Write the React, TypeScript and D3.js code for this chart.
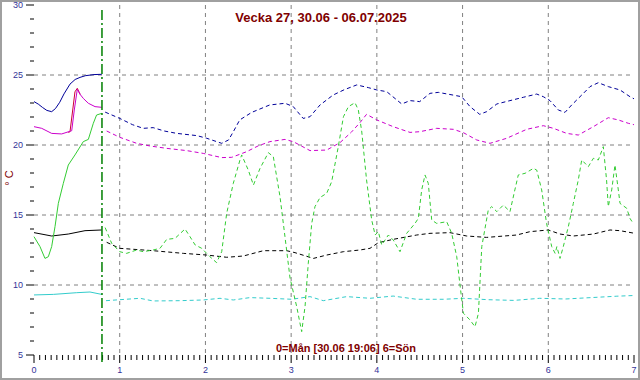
import React from "react";
import * as d3 from "d3";

type P = [number, number];

const titleText = "Vecka 27, 30.06 - 06.07.2025";
const footerText = "0=Mån [30.06 19:06] 6=Sön";
const yLabel = "° C";
const xTicks = [0, 1, 2, 3, 4, 5, 6, 7];
const yTicks = [5, 10, 15, 20, 25, 30];
const nowX = 0.793;

const blueSolid: P[] = [[0,23.1],[0.05,22.92],[0.1,22.68],[0.15,22.47],[0.206,22.38],[0.25,22.6],[0.3,23.05],[0.35,23.65],[0.42,24.35],[0.48,24.68],[0.537,24.83],[0.6,24.95],[0.7,25.03],[0.79,25.05]];
const blueDashed: P[] = [[0.83,22.35],[1.0,21.9],[1.15,21.45],[1.275,21.19],[1.39,21.24],[1.52,21.0],[1.665,20.83],[1.9,20.67],[2.015,20.48],[2.19,20.12],[2.27,20.36],[2.33,21.0],[2.4,21.79],[2.54,22.33],[2.75,22.86],[2.93,22.98],[3.025,22.74],[3.14,21.9],[3.22,22.02],[3.337,22.86],[3.49,23.57],[3.62,23.95],[3.765,24.29],[3.9,24.1],[4.0,23.93],[4.115,23.81],[4.29,22.93],[4.387,23.17],[4.5,23.1],[4.62,23.69],[4.717,23.76],[4.93,23.52],[4.99,23.45],[5.087,22.74],[5.2,22.19],[5.28,22.38],[5.4,22.93],[5.553,23.17],[5.71,23.41],[5.865,23.64],[5.942,23.45],[6.02,23.17],[6.117,22.5],[6.195,22.33],[6.273,22.86],[6.41,23.69],[6.487,24.17],[6.584,24.45],[6.7,24.17],[6.837,23.93],[6.953,23.45],[7.0,23.3]];

const magentaSolid: P[] = [[0,21.31],[0.09,21.19],[0.206,20.83],[0.323,20.79],[0.44,21.02],[0.47,22.5],[0.505,23.98],[0.54,23.6],[0.575,23.33],[0.634,22.98],[0.712,22.74],[0.79,22.69]];
const redSolid: P[] = [[0.4,20.9],[0.42,20.95],[0.478,23.8],[0.505,24.05],[0.54,23.6]];
const magentaDashed: P[] = [[0.848,21.0],[1.0,20.55],[1.198,20.12],[1.353,19.93],[1.548,19.76],[1.78,19.6],[1.975,19.4],[2.19,19.1],[2.307,19.12],[2.48,19.52],[2.62,19.95],[2.753,20.24],[2.928,20.4],[3.025,20.24],[3.22,19.6],[3.415,19.64],[3.57,20.17],[3.7,20.9],[3.803,21.6],[3.88,22.19],[4.0,21.79],[4.19,21.31],[4.387,20.9],[4.5,20.95],[4.698,21.19],[4.893,21.12],[5.01,20.88],[5.165,20.36],[5.32,20.12],[5.515,20.48],[5.748,21.12],[5.942,21.38],[6.06,21.19],[6.215,20.83],[6.35,20.71],[6.526,21.31],[6.7,21.95],[6.817,21.79],[6.934,21.55],[7.0,21.45]];

const greenSolid: P[] = [[0,13.45],[0.07,12.74],[0.128,11.9],[0.167,12.02],[0.206,12.74],[0.245,14.17],[0.284,15.83],[0.342,17.26],[0.4,18.57],[0.478,19.29],[0.575,20.24],[0.634,20.4],[0.692,21.55],[0.73,22.14],[0.79,22.26]];
const greenDashed: P[] = [[0.83,14.1],[0.906,12.98],[1.0,12.38],[1.08,12.26],[1.198,12.5],[1.275,12.38],[1.39,12.5],[1.47,12.62],[1.548,13.26],[1.645,13.33],[1.762,14.0],[1.82,13.45],[1.88,12.86],[1.957,12.62],[2.053,12.02],[2.13,11.6],[2.19,12.38],[2.248,15.12],[2.325,17.26],[2.403,18.93],[2.423,19.29],[2.5,18.21],[2.56,17.14],[2.637,18.33],[2.734,19.45],[2.792,19.17],[2.87,16.31],[2.928,13.45],[2.987,10.5],[3.065,8.45],[3.123,6.67],[3.162,8.45],[3.2,11.55],[3.24,14.4],[3.278,15.6],[3.337,16.25],[3.415,16.55],[3.473,17.38],[3.55,19.88],[3.61,22.02],[3.668,22.74],[3.745,23.02],[3.784,22.5],[3.823,21.0],[3.88,17.5],[3.94,14.64],[3.98,13.57],[4.017,13.81],[4.057,12.86],[4.134,13.57],[4.192,13.21],[4.27,12.38],[4.348,13.69],[4.445,14.4],[4.484,14.76],[4.523,16.79],[4.562,17.86],[4.6,17.26],[4.64,14.64],[4.698,14.4],[4.815,14.52],[4.873,13.69],[4.932,12.02],[4.97,10.0],[5.01,7.98],[5.087,7.5],[5.145,7.02],[5.185,7.98],[5.224,12.74],[5.3,15.36],[5.34,15.6],[5.4,15.24],[5.476,15.71],[5.553,15.24],[5.61,16.79],[5.65,17.86],[5.73,17.98],[5.826,18.33],[5.865,18.21],[5.923,16.79],[5.98,14.4],[6.04,12.74],[6.08,12.26],[6.1,12.74],[6.137,11.9],[6.175,12.74],[6.234,14.17],[6.292,15.83],[6.35,17.5],[6.39,18.93],[6.467,18.45],[6.526,19.05],[6.584,18.93],[6.642,19.88],[6.68,17.5],[6.7,15.6],[6.74,16.79],[6.778,18.57],[6.817,16.79],[6.837,15.83],[6.915,15.48],[6.953,14.76],[6.98,14.5]];

const blackSolid: P[] = [[0,13.74],[0.206,13.5],[0.4,13.64],[0.595,13.88],[0.79,13.93]];
const blackDashed: P[] = [[0.848,13.05],[1.0,12.62],[1.39,12.45],[1.742,12.26],[2.015,12.14],[2.248,11.98],[2.442,12.07],[2.675,12.45],[2.948,12.45],[3.045,12.31],[3.26,11.9],[3.415,12.14],[3.61,12.38],[3.803,12.5],[3.92,12.62],[4.017,13.02],[4.19,13.26],[4.465,13.57],[4.62,13.69],[4.853,13.74],[5.048,13.5],[5.28,13.4],[5.63,13.57],[5.787,13.81],[6.0,13.93],[6.137,13.64],[6.292,13.5],[6.526,13.64],[6.72,13.93],[6.837,13.88],[7.0,13.7]];

const cyanSolid: P[] = [[0,9.29],[0.226,9.33],[0.498,9.45],[0.653,9.5],[0.79,9.33]];
const cyanDashed: P[] = [[0.84,8.88],[1.0,8.95],[1.237,9.05],[1.39,8.86],[1.7,8.88],[1.975,8.93],[2.17,9.05],[2.325,8.93],[2.52,9.1],[2.753,9.05],[3.007,8.98],[3.22,9.17],[3.375,8.88],[3.648,9.17],[3.92,9.05],[4.19,9.21],[4.465,8.98],[4.776,8.98],[5.01,9.05],[5.3,8.95],[5.6,8.9],[5.9,9.05],[6.2,9.0],[6.5,9.1],[6.8,9.2],[7.0,9.25]];

const W = 640, H = 380;
const x = d3.scaleLinear().domain([0, 7]).range([34, 634]);
const y = d3.scaleLinear().domain([5, 30]).range([355, 5]);
const line = d3.line<P>().x(d => x(d[0])).y(d => y(d[1]));

const DASH = "4,3";
const series: { d: P[]; c: string; dash?: string }[] = [
  { d: cyanSolid, c: "#33cccc" },
  { d: cyanDashed, c: "#33cccc", dash: DASH },
  { d: blackSolid, c: "#000000" },
  { d: blackDashed, c: "#000000", dash: DASH },
  { d: greenSolid, c: "#33cc33" },
  { d: greenDashed, c: "#33cc33", dash: DASH },
  { d: redSolid, c: "#cc0033" },
  { d: magentaSolid, c: "#cc00cc" },
  { d: magentaDashed, c: "#cc00cc", dash: DASH },
  { d: blueSolid, c: "#000099" },
  { d: blueDashed, c: "#000099", dash: DASH },
];

export default function App() {
  const minorX = d3.range(0, 7 * 15 + 1).map(i => i / 15);
  const minorY = d3.range(5, 31);
  const font = "'Liberation Sans', Arial, sans-serif";
  return (
    <svg width={W} height={H} style={{ position: "absolute", left: 0, top: 0, background: "#fff" }} fontFamily={font}>
      <rect x={1} y={1} width={W - 2} height={H - 2} fill="#fff" stroke="#a0a0a0" strokeWidth={2} />
      {[10, 15, 20, 25].map(v => (
        <line key={"gy" + v} x1={x(0)} x2={x(7)} y1={y(v)} y2={y(v)} stroke="#808080" strokeDasharray="4,4" />
      ))}
      {[1, 2, 3, 4, 5, 6].map(v => (
        <line key={"gx" + v} x1={x(v)} x2={x(v)} y1={y(30)} y2={y(5)} stroke="#808080" strokeDasharray="4,4" />
      ))}
      {minorY.map(v => (
        <line key={"ty" + v} x1={v % 5 === 0 ? 26 : 30} x2={34} y1={y(v)} y2={y(v)} stroke="#000" />
      ))}
      {yTicks.map(v => (
        <text key={"ly" + v} x={23} y={y(v) + 3} textAnchor="end" fontSize={9} fill="#333399">{v}</text>
      ))}
      {minorX.map((v, i) => (
        <line key={"tx" + i} x1={x(v)} x2={x(v)} y1={355} y2={i % 15 === 0 ? 363 : 360} stroke="#000" />
      ))}
      {xTicks.map(v => (
        <text key={"lx" + v} x={x(v)} y={373} textAnchor="middle" fontSize={9} fill="#333399">{v}</text>
      ))}
      {series.map((s, i) => (
        <path key={"s" + i} d={line(s.d) || ""} fill="none" stroke={s.c} strokeWidth={1} strokeDasharray={s.dash} />
      ))}
      <line x1={x(nowX)} x2={x(nowX)} y1={10} y2={363} stroke="#008000" strokeWidth={1.5} strokeDasharray="10,3,2,3" />
      <text x={321} y={22} textAnchor="middle" fontSize={13} fontWeight="bold" fill="#800000">{titleText}</text>
      <text x={346} y={352} textAnchor="middle" fontSize={11} fontWeight="bold" fill="#800000">{footerText}</text>
      <text transform={`translate(13,178) rotate(-90)`} textAnchor="middle" fontSize={11} fill="#800000">{yLabel}</text>
    </svg>
  );
}
